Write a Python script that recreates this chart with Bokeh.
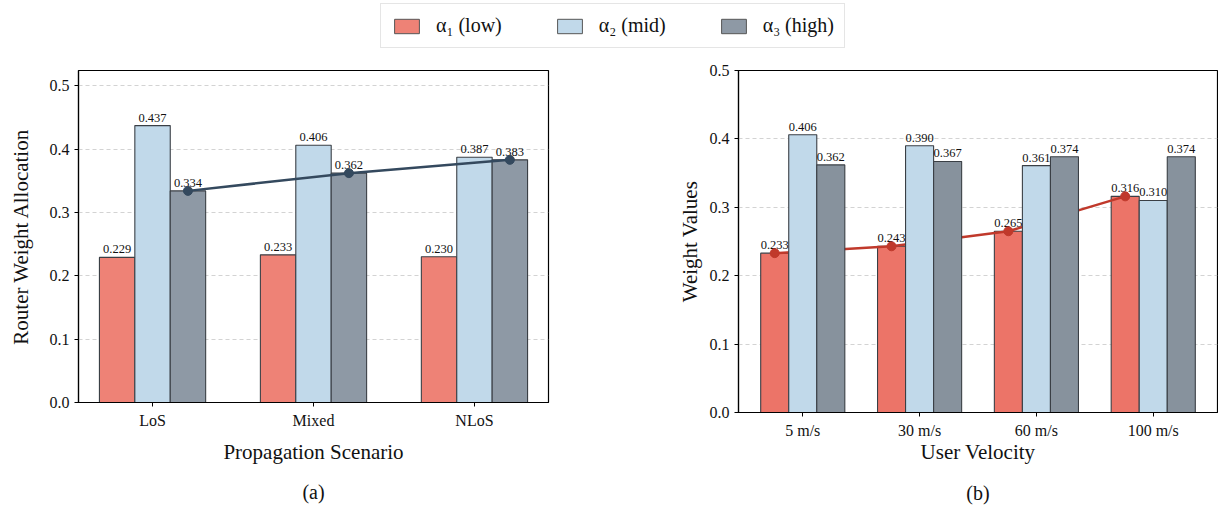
from bokeh.plotting import figure
from bokeh.layouts import column, row
from bokeh.models import (Range1d, FixedTicker, Legend, LegendItem, Title,
                          PrintfTickFormatter, ColumnDataSource)
from bokeh.embed import file_html
from bokeh.resources import INLINE
from bokeh.core.properties import value

# ---------------- data ----------------
scenarios = ["LoS", "Mixed", "NLoS"]
a_alpha1 = [0.229, 0.233, 0.230]
a_alpha2 = [0.437, 0.406, 0.387]
a_alpha3 = [0.334, 0.362, 0.383]

velocities = ["5 m/s", "30 m/s", "60 m/s", "100 m/s"]
b_alpha1 = [0.233, 0.243, 0.265, 0.316]
b_alpha2 = [0.406, 0.390, 0.361, 0.310]
b_alpha3 = [0.362, 0.367, 0.374, 0.374]

series_labels = ["α₁ (low)", "α₂ (mid)", "α₃ (high)"]
y_ticks = [0.0, 0.1, 0.2, 0.3, 0.4, 0.5]

# ---------------- style ----------------
FONT = "Liberation Serif"
RED = "#ee8276"
RED_B = "#ec7468"
BLUE = "#c1d9ea"
GRAY = "#8e99a5"
GRAY_B = "#87929d"
EDGE = "#3a3f45"
LINE_A = "#34495e"
LINE_B = "#c0392b"


def style(p, xlabel, ylabel, cats, caption, ylab_standoff, xlab_standoff, cap_standoff):
    p.outline_line_color = "black"
    p.outline_line_width = 1.2
    p.xgrid.visible = False
    p.ygrid.grid_line_color = "#c8c8c8"
    p.ygrid.grid_line_dash = "4 3"
    p.ygrid.grid_line_width = 0.8
    p.ygrid.ticker = FixedTicker(ticks=y_ticks)
    p.yaxis.ticker = FixedTicker(ticks=y_ticks)
    p.yaxis.formatter = PrintfTickFormatter(format="%.1f")
    p.xaxis.ticker = FixedTicker(ticks=list(range(len(cats))))
    p.xaxis.major_label_overrides = {i: c for i, c in enumerate(cats)}
    for ax in (p.xaxis[0], p.yaxis[0]):
        ax.axis_line_color = "black"
        ax.axis_line_width = 1.2
        ax.major_tick_out = 4
        ax.major_tick_in = 0
        ax.minor_tick_line_color = None
        ax.major_label_text_font = FONT
        ax.major_label_text_font_size = "16px"
        ax.major_label_text_color = "#111111"
        ax.axis_label_text_font = FONT
        ax.axis_label_text_font_size = "21px"
        ax.axis_label_text_font_style = "normal"
        ax.axis_label_text_color = "#111111"
    p.xaxis.axis_label = xlabel
    p.yaxis.axis_label = ylabel
    p.yaxis.axis_label_standoff = ylab_standoff
    p.xaxis.axis_label_standoff = xlab_standoff
    p.xaxis.major_label_standoff = 5
    t = Title(text=caption, align="center", text_font=FONT,
              text_font_size="20px", text_font_style="normal",
              text_color="#111111", standoff=cap_standoff)
    p.add_layout(t, "below")
    return t


def bars(p, cats, series, colors, width, line_idx, line_color):
    n = len(series)
    xs = list(range(len(cats)))
    for k, (vals, col) in enumerate(zip(series, colors)):
        off = (k - (n - 1) / 2) * width
        xk = [x + off for x in xs]
        src = ColumnDataSource(dict(x=xk, top=vals,
                                    lab=["%.3f" % v for v in vals]))
        p.vbar(x="x", top="top", width=width, source=src, fill_color=col,
               line_color=EDGE, line_width=1.1)
        p.text(x="x", y="top", text="lab", source=src, text_align="center",
               text_baseline="bottom", y_offset=-4, text_font=value(FONT),
               text_font_size="12.5px", text_color="#111111")
        if k == line_idx:
            p.line(xk, vals, line_color=line_color, line_width=2.5)
            p.scatter(xk, vals, size=9, fill_color=line_color,
                      line_color=line_color)


# ---------------- left panel ----------------
pa = figure(frame_width=470, frame_height=332, output_backend="svg",
            toolbar_location=None,
            x_range=Range1d(-0.46, 2.46), y_range=Range1d(0, 0.524),
            min_border_left=78, min_border_right=62, min_border_top=7,
            min_border_bottom=112)
bars(pa, scenarios, [a_alpha1, a_alpha2, a_alpha3], [RED, BLUE, GRAY], 0.22, 2, LINE_A)
style(pa, "Propagation Scenario", "Router Weight Allocation", scenarios, "(a)", 14, 8, 25)

# ---------------- right panel ----------------
pb = figure(frame_width=479, frame_height=342, output_backend="svg",
            toolbar_location=None,
            x_range=Range1d(-0.55, 3.55), y_range=Range1d(0, 0.5),
            min_border_left=128, min_border_right=1, min_border_top=7,
            min_border_bottom=102)
bars(pb, velocities, [b_alpha1, b_alpha2, b_alpha3], [RED_B, BLUE, GRAY_B], 0.24, 0, LINE_B)
style(pb, "User Velocity", "Weight Values", velocities, "(b)", 5, -2, 27)

# ---------------- legend strip ----------------
lf = figure(width=1218, height=63, output_backend="svg", toolbar_location=None,
            x_range=Range1d(0, 1), y_range=Range1d(0, 1),
            min_border=0, outline_line_color=None)
lf.xaxis.visible = False
lf.yaxis.visible = False
lf.xgrid.visible = False
lf.ygrid.visible = False
items = []
for lab, col in zip(series_labels, [RED, BLUE, GRAY]):
    r = lf.vbar(x=[5], top=[5], width=0.1, fill_color=col, line_color="#555555",
                line_width=1)
    items.append(LegendItem(label=lab, renderers=[r]))
leg = Legend(items=items, orientation="horizontal", location=(380, 15),
             glyph_width=31, glyph_height=18, label_standoff=14, spacing=52,
             padding=10, margin=0, label_text_font=FONT,
             label_text_font_size="20px", label_text_color="#111111",
             border_line_color="#cccccc", border_line_width=1,
             background_fill_color="white", background_fill_alpha=1)
lf.add_layout(leg, "center")

page = column(lf, row(pa, pb))
open("out.html", "w").write(file_html(page, INLINE))
